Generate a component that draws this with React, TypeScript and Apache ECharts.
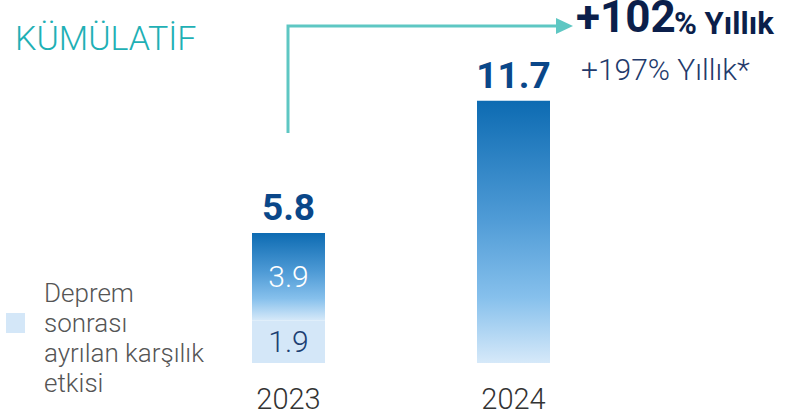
import React, { useEffect, useRef } from "react";
import * as echarts from "echarts";

const categories = ["2023", "2024"];
const provisionValues: (number | null)[] = [1.9, null];
const mainValues = [3.9, 11.7];
const totals = [5.8, 11.7];
const legendName = "Deprem sonrası ayrılan karşılık etkisi";
const legendLines = ["", "Deprem", "sonrası", "ayrılan karşılık", "etkisi"];
const titleText = "KÜMÜLATİF";
const growthMain = "+102";
const growthSuffix = "% Yıllık";
const growthSub = "+197% Yıllık*";

const FONT = "Roboto, 'Noto Sans', sans-serif";

export default function App() {
  const ref = useRef<HTMLDivElement>(null);
  useEffect(() => {
    document.body.style.margin = "0";
    if (!ref.current) return;
    const chart = echarts.init(ref.current, null, { renderer: "svg" });
    const gradient = new echarts.graphic.LinearGradient(0, 0, 0, 1, [
      { offset: 0, color: "#0d6bb2" },
      { offset: 0.45, color: "#4f9bd6" },
      { offset: 0.75, color: "#86c0ec" },
      { offset: 1, color: "#d6e9f9" },
    ]);
    chart.setOption({
      animation: false,
      textStyle: { fontFamily: FONT },
      grid: { left: 176, right: 161, top: 94, bottom: 55 },
      legend: {
        data: [legendName],
        left: 6,
        top: 248,
        orient: "vertical",
        padding: 0,
        icon: "rect",
        itemWidth: 19,
        itemHeight: 20,
        itemGap: 0,
        selectedMode: false,
        formatter: () => legendLines.join("\n"),
        textStyle: {
          fontFamily: FONT,
          fontSize: 26,
          fontWeight: 300,
          lineHeight: 30,
          color: "#555555",
          padding: [0, 0, 0, 14],
        },
      },
      xAxis: {
        type: "category",
        data: categories,
        axisLine: { show: false },
        axisTick: { show: false },
        axisLabel: {
          margin: 21,
          fontSize: 29,
          fontWeight: 300,
          color: "#333333",
          fontFamily: FONT,
        },
      },
      yAxis: { type: "value", min: 0, max: 12, show: false, splitLine: { show: false } },
      series: [
        {
          name: legendName,
          type: "bar",
          stack: "total",
          barWidth: 73,
          data: provisionValues,
          itemStyle: { color: "#d4e7f8" },
          label: {
            show: true,
            position: "inside",
            fontSize: 30,
            fontWeight: 300,
            color: "#1c3f73",
            fontFamily: FONT,
          },
        },
        {
          name: "Toplam",
          type: "bar",
          stack: "total",
          barWidth: 73,
          data: mainValues.map((v, i) => ({
            value: v,
            label: { show: i === 0 },
          })),
          itemStyle: { color: gradient },
          label: {
            show: true,
            position: "inside",
            fontSize: 30,
            fontWeight: 300,
            color: "#ffffff",
            fontFamily: FONT,
          },
        },
        {
          name: "Etiket",
          type: "bar",
          stack: "total",
          barWidth: 73,
          data: totals.map(() => 0),
          itemStyle: { color: "transparent" },
          label: {
            show: true,
            position: "top",
            distance: 7,
            formatter: (p: any) => String(totals[p.dataIndex]),
            fontSize: 37,
            fontWeight: "bold",
            color: "#0a4789",
            fontFamily: FONT,
          },
        },
      ],
      graphic: [
        {
          type: "text",
          x: 15,
          y: 21,
          style: {
            text: titleText,
            fontSize: 34,
            fontWeight: 300,
            fill: "#1fb0b5",
            fontFamily: FONT,
          },
        },
        {
          type: "polyline",
          shape: { points: [[288, 133], [288, 26], [558, 26]] },
          style: { stroke: "#5ec7c3", lineWidth: 3, fill: null },
        },
        {
          type: "polygon",
          shape: { points: [[556, 18], [573, 26], [556, 34]] },
          style: { fill: "#5ec7c3" },
        },
        {
          type: "text",
          x: 576,
          y: 2,
          style: {
            text: growthMain,
            fontSize: 44,
            lineHeight: 30,
            fontWeight: "bold",
            fill: "#0b1f4b",
            fontFamily: FONT,
          },
        },
        {
          type: "text",
          x: 674,
          y: 8,
          style: {
            text: growthSuffix,
            fontSize: 31,
            fontWeight: "bold",
            fill: "#0b1f4b",
            fontFamily: FONT,
          },
        },
        {
          type: "text",
          x: 581,
          y: 54,
          style: {
            text: growthSub,
            fontSize: 30,
            fontWeight: 300,
            fill: "#233a6b",
            fontFamily: FONT,
          },
        },
      ],
    });
    return () => chart.dispose();
  }, []);
  return <div ref={ref} style={{ width: 787, height: 418 }} />;
}
